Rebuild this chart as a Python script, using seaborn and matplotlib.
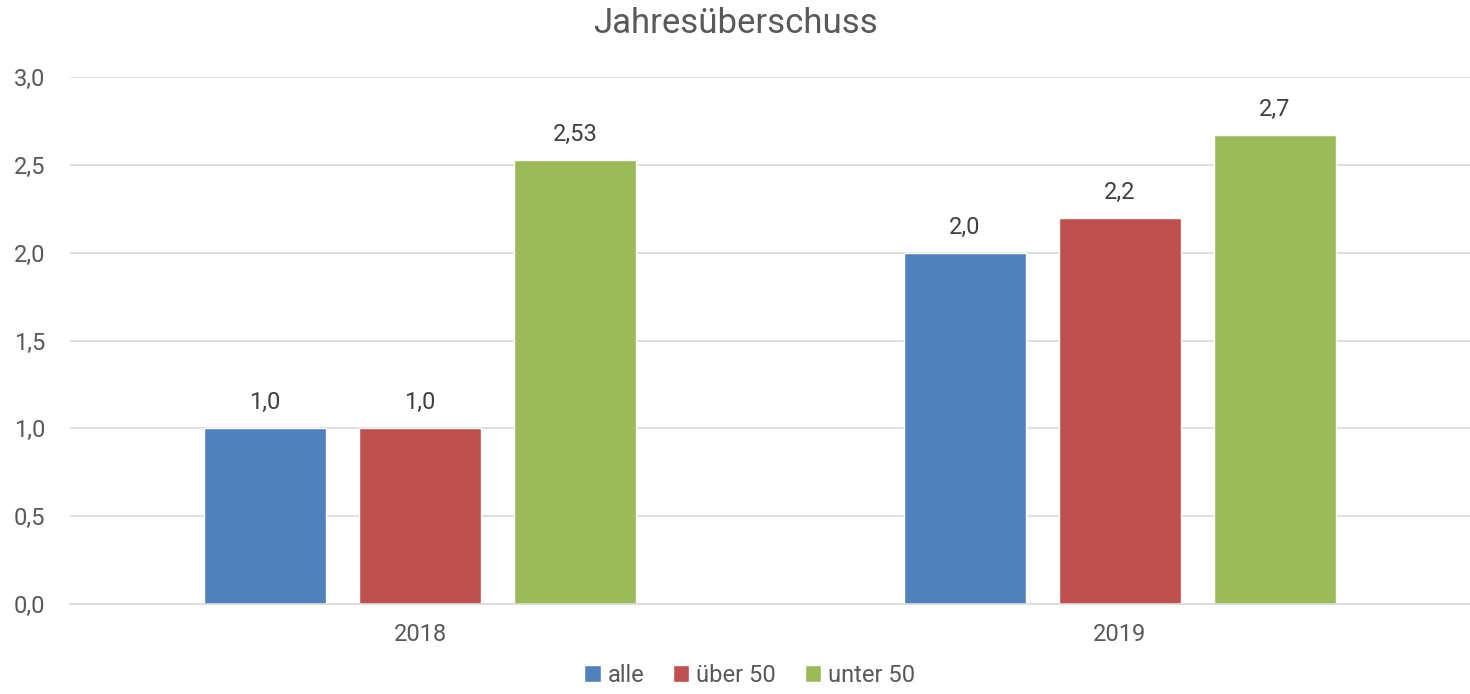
import matplotlib
matplotlib.use("Agg")
import matplotlib.pyplot as plt
import seaborn as sns
import pandas as pd
from matplotlib.ticker import FuncFormatter

years = ["2018", "2019"]
groups = ["alle", "über 50", "unter 50"]
values_alle = [1.0, 2.0]
values_ueber50 = [1.0, 2.2]
values_unter50 = [2.53, 2.67]
value_labels = [["1,0", "2,0"], ["1,0", "2,2"], ["2,53", "2,7"]]
colors = ["#4F81BD", "#C0504D", "#9BBB59"]

df = pd.DataFrame({
    "Jahr": years * 3,
    "Gruppe": [g for g in groups for _ in years],
    "Wert": values_alle + values_ueber50 + values_unter50,
})

sns.set_theme(style="white")
plt.rcParams["font.family"] = ["Roboto", "DejaVu Sans"]
text_color = "#595959"

fig = plt.figure(figsize=(14.7, 6.94), dpi=100)
ax = fig.add_axes([0.0476, 0.1297, 0.9524, 0.7593])

sns.barplot(data=df, x="Jahr", y="Wert", hue="Gruppe", order=years, hue_order=groups,
            palette=colors, width=0.664, gap=0.21, saturation=1, ax=ax, legend=True)

# Data labels
for container, labels in zip(ax.containers, value_labels):
    ax.bar_label(container, labels=labels, padding=10, fontsize=17, color="#404040")

ax.set_ylim(0, 3.0)
ax.set_xlim(-0.5, 1.5)
ax.set_yticks([0, 0.5, 1.0, 1.5, 2.0, 2.5, 3.0])
ax.yaxis.set_major_formatter(FuncFormatter(lambda v, p: f"{v:.1f}".replace(".", ",")))
ax.yaxis.grid(True, color="#D9D9D9", linewidth=1.2)
ax.set_axisbelow(True)
for side in ["left", "right", "top"]:
    ax.spines[side].set_visible(False)
ax.spines["bottom"].set_color("#D9D9D9")
ax.spines["bottom"].set_linewidth(1.2)
ax.tick_params(axis="y", labelsize=17, labelcolor=text_color, length=0, pad=18)
ax.tick_params(axis="x", labelsize=17, labelcolor=text_color, length=0, pad=14)
ax.set_xlabel("")
ax.set_ylabel("")

fig.suptitle("Jahresüberschuss", fontsize=25, color=text_color, y=0.99)

handles, labels = ax.get_legend_handles_labels()
ax.get_legend().remove()
fig.legend(handles, labels, loc="lower center", bbox_to_anchor=(0.51, -0.02), ncol=3,
           frameon=False, fontsize=17, labelcolor=text_color, handlelength=0.7,
           handleheight=0.7, handletextpad=0.3, columnspacing=1.2)

fig.savefig("out.png", dpi=100)
